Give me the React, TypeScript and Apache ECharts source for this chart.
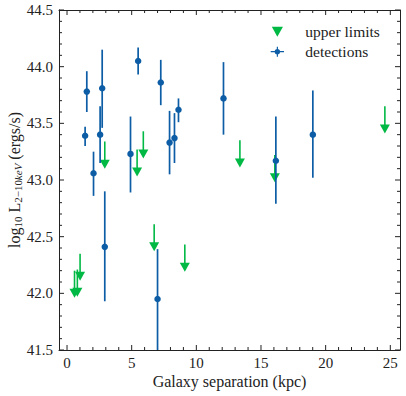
import React, { useEffect, useRef } from "react";
import * as echarts from "echarts";

// detections: separation (kpc), log L, lower and upper ends of the error bar
const detX = [1.40, 1.53, 2.05, 2.56, 2.72, 2.92, 4.91, 5.50, 7.00, 7.25, 7.93, 8.31, 8.62, 12.10, 16.15, 19.01];
const detY = [43.39, 43.78, 43.06, 43.40, 43.81, 42.41, 43.23, 44.05, 41.95, 43.86, 43.33, 43.37, 43.62, 43.72, 43.17, 43.40];
const detLo = [43.30, 43.60, 42.86, 43.15, 43.46, 41.93, 42.89, 43.93, 41.50, 43.66, 43.05, 43.15, 43.51, 43.40, 42.79, 43.02];
const detHi = [43.47, 43.96, 43.25, 43.65, 44.15, 42.90, 43.56, 44.17, 42.39, 44.06, 43.61, 43.59, 43.72, 44.04, 43.56, 43.79];

// upper limits
const limX = [0.58, 0.80, 1.01, 2.92, 5.42, 5.90, 6.74, 9.11, 13.37, 16.07, 24.58];
const limY = [42.00, 42.01, 42.15, 43.14, 43.07, 43.23, 42.41, 42.23, 43.15, 43.02, 43.45];
const ARROW_LEN = 0.2;

// axes
const X_MIN = -0.62;
const X_MAX = 25.75;
const X_MAJOR = [0, 5, 10, 15, 20, 25];
const X_MINOR = [1, 2, 3, 4, 6, 7, 8, 9, 11, 12, 13, 14, 16, 17, 18, 19, 21, 22, 23, 24];
const Y_MIN = 41.5;
const Y_MAX = 44.5;
const Y_STEP = 0.5;
const Y_MAJOR = [41.5, 42.0, 42.5, 43.0, 43.5, 44.0, 44.5];
const Y_MINOR = [
  41.6, 41.7, 41.8, 41.9, 42.1, 42.2, 42.3, 42.4, 42.6, 42.7, 42.8, 42.9,
  43.1, 43.2, 43.3, 43.4, 43.6, 43.7, 43.8, 43.9, 44.1, 44.2, 44.3, 44.4,
];

const BLUE = "#0C5DA5";
const GREEN = "#00B945";
const INK = "#222222";
const FONT = "Liberation Serif";

const TRI = "path://M0,0 L10,0 L5,9 Z";
const DET_ICON =
  "path://M0,5.3 L16,5.3 L16,6.7 L0,6.7 Z M7.3,0 L8.7,0 L8.7,12 L7.3,12 Z M8,2.8 A3.2,3.2 0 1 1 8,9.2 A3.2,3.2 0 1 1 8,2.8 Z";

export default function App() {
  const ref = useRef<HTMLDivElement>(null);

  useEffect(() => {
    if (!ref.current) return;
    const chart = echarts.init(ref.current, undefined, { renderer: "svg" });

    const axisCommon = {
      axisLine: { show: true, onZero: false, lineStyle: { color: INK, width: 1 } },
      axisTick: { show: false },
      minorTick: { show: false },
      splitLine: { show: false },
      minorSplitLine: { show: false },
    };

    const xLabel = (v: number) => (Math.abs(v - Math.round(v)) < 1e-6 ? String(Math.round(v)) : "");

    const tickStyle = { stroke: INK, lineWidth: 1 };
    const MAJOR_LEN = 5;
    const MINOR_LEN = 3;

    const option: any = {
      animation: false,
      textStyle: { fontFamily: FONT },
      grid: { left: 59, right: 6, top: 10, bottom: 46, containLabel: false, outerBoundsMode: "none" },
      legend: {
        orient: "vertical",
        left: 265.7,
        top: 18.7,
        itemWidth: 16,
        itemHeight: 10,
        itemGap: 4,
        symbolKeepAspect: true,
        textStyle: { fontFamily: FONT, fontSize: 15.5, color: INK, lineHeight: 16, padding: [0, 0, 0, 15] },
        data: [
          { name: "upper limits", icon: TRI },
          { name: "detections", icon: DET_ICON },
        ],
      },
      xAxis: [
        {
          type: "value",
          position: "bottom",
          min: X_MIN,
          max: X_MAX,
          ...axisCommon,
          axisLabel: { show: true, formatter: xLabel, fontFamily: FONT, fontSize: 15, color: INK, margin: 5 },
          name: "Galaxy separation (kpc)",
          nameLocation: "middle",
          nameGap: 23,
          nameMoveOverlap: false,
          nameTextStyle: { fontFamily: FONT, fontSize: 16, color: INK },
        },
        {
          type: "value",
          position: "top",
          min: X_MIN,
          max: X_MAX,
          ...axisCommon,
          axisLabel: { show: false },
        },
      ],
      yAxis: [
        {
          type: "value",
          position: "left",
          min: Y_MIN,
          max: Y_MAX,
          interval: Y_STEP,
          ...axisCommon,
          axisLabel: {
            show: true,
            formatter: (v: number) => v.toFixed(1),
            fontFamily: FONT,
            fontSize: 15,
            color: INK,
            margin: 6,
          },
          name: "log{sub|10} L{sub|2−10}{subi|keV} (ergs/s)",
          nameLocation: "middle",
          nameGap: 36,
          nameRotate: 90,
          nameMoveOverlap: false,
          nameTextStyle: {
            fontFamily: FONT,
            fontSize: 16,
            color: INK,
            lineHeight: 18,
            rich: {
              sub: { fontFamily: FONT, fontSize: 11, color: INK, lineHeight: 10, verticalAlign: "bottom" },
              subi: { fontFamily: FONT, fontSize: 11, fontStyle: "italic", color: INK, lineHeight: 10, verticalAlign: "bottom" },
            },
          },
        },
        {
          type: "value",
          position: "right",
          min: Y_MIN,
          max: Y_MAX,
          interval: Y_STEP,
          ...axisCommon,
          axisLabel: { show: false },
        },
      ],
      series: [
        {
          name: "ticks",
          type: "custom",
          xAxisIndex: 0,
          yAxisIndex: 0,
          silent: true,
          clip: false,
          data: [[X_MIN, Y_MIN]],
          renderItem: (params: any, api: any) => {
            const cs = params.coordSys;
            const left = cs.x;
            const top = cs.y;
            const right = cs.x + cs.width;
            const bottom = cs.y + cs.height;
            const children: any[] = [];
            const addX = (v: number, len: number) => {
              const px = api.coord([v, Y_MIN])[0];
              children.push({ type: "line", shape: { x1: px, y1: bottom, x2: px, y2: bottom - len }, style: tickStyle });
              children.push({ type: "line", shape: { x1: px, y1: top, x2: px, y2: top + len }, style: tickStyle });
            };
            const addY = (v: number, len: number) => {
              const py = api.coord([X_MIN, v])[1];
              children.push({ type: "line", shape: { x1: left, y1: py, x2: left + len, y2: py }, style: tickStyle });
              children.push({ type: "line", shape: { x1: right, y1: py, x2: right - len, y2: py }, style: tickStyle });
            };
            X_MAJOR.forEach((v) => addX(v, MAJOR_LEN));
            X_MINOR.forEach((v) => addX(v, MINOR_LEN));
            Y_MAJOR.forEach((v) => addY(v, MAJOR_LEN));
            Y_MINOR.forEach((v) => addY(v, MINOR_LEN));
            return { type: "group", children };
          },
          z: 1,
        },
        {
          name: "limit arrows",
          type: "custom",
          xAxisIndex: 0,
          yAxisIndex: 0,
          data: limX.map((x, i) => [x, limY[i], limY[i] + ARROW_LEN]),
          renderItem: (params: any, api: any) => {
            const p1 = api.coord([api.value(0), api.value(1)]);
            const p2 = api.coord([api.value(0), api.value(2)]);
            return {
              type: "line",
              shape: { x1: p1[0], y1: p1[1], x2: p2[0], y2: p2[1] },
              style: { stroke: GREEN, lineWidth: 1.6 },
            };
          },
          z: 2,
        },
        {
          name: "upper limits",
          type: "scatter",
          xAxisIndex: 0,
          yAxisIndex: 0,
          symbol: TRI,
          symbolSize: [10, 9],
          itemStyle: { color: GREEN, opacity: 1 },
          data: limX.map((x, i) => [x, limY[i]]),
          z: 3,
        },
        {
          name: "detection errors",
          type: "custom",
          xAxisIndex: 0,
          yAxisIndex: 0,
          data: detX.map((x, i) => [x, detLo[i], detHi[i]]),
          renderItem: (params: any, api: any) => {
            const p1 = api.coord([api.value(0), api.value(1)]);
            const p2 = api.coord([api.value(0), api.value(2)]);
            return {
              type: "line",
              shape: { x1: p1[0], y1: p1[1], x2: p2[0], y2: p2[1] },
              style: { stroke: BLUE, lineWidth: 1.7 },
            };
          },
          z: 4,
        },
        {
          name: "detections",
          type: "scatter",
          xAxisIndex: 0,
          yAxisIndex: 0,
          symbol: "circle",
          symbolSize: 6.5,
          itemStyle: { color: BLUE, opacity: 1 },
          data: detX.map((x, i) => [x, detY[i]]),
          z: 5,
        },
      ],
    };

    chart.setOption(option);
    return () => chart.dispose();
  }, []);

  return (
    <div
      ref={ref}
      style={{ position: "absolute", left: 0, top: 0, width: 406, height: 396, background: "#ffffff" }}
    />
  );
}
